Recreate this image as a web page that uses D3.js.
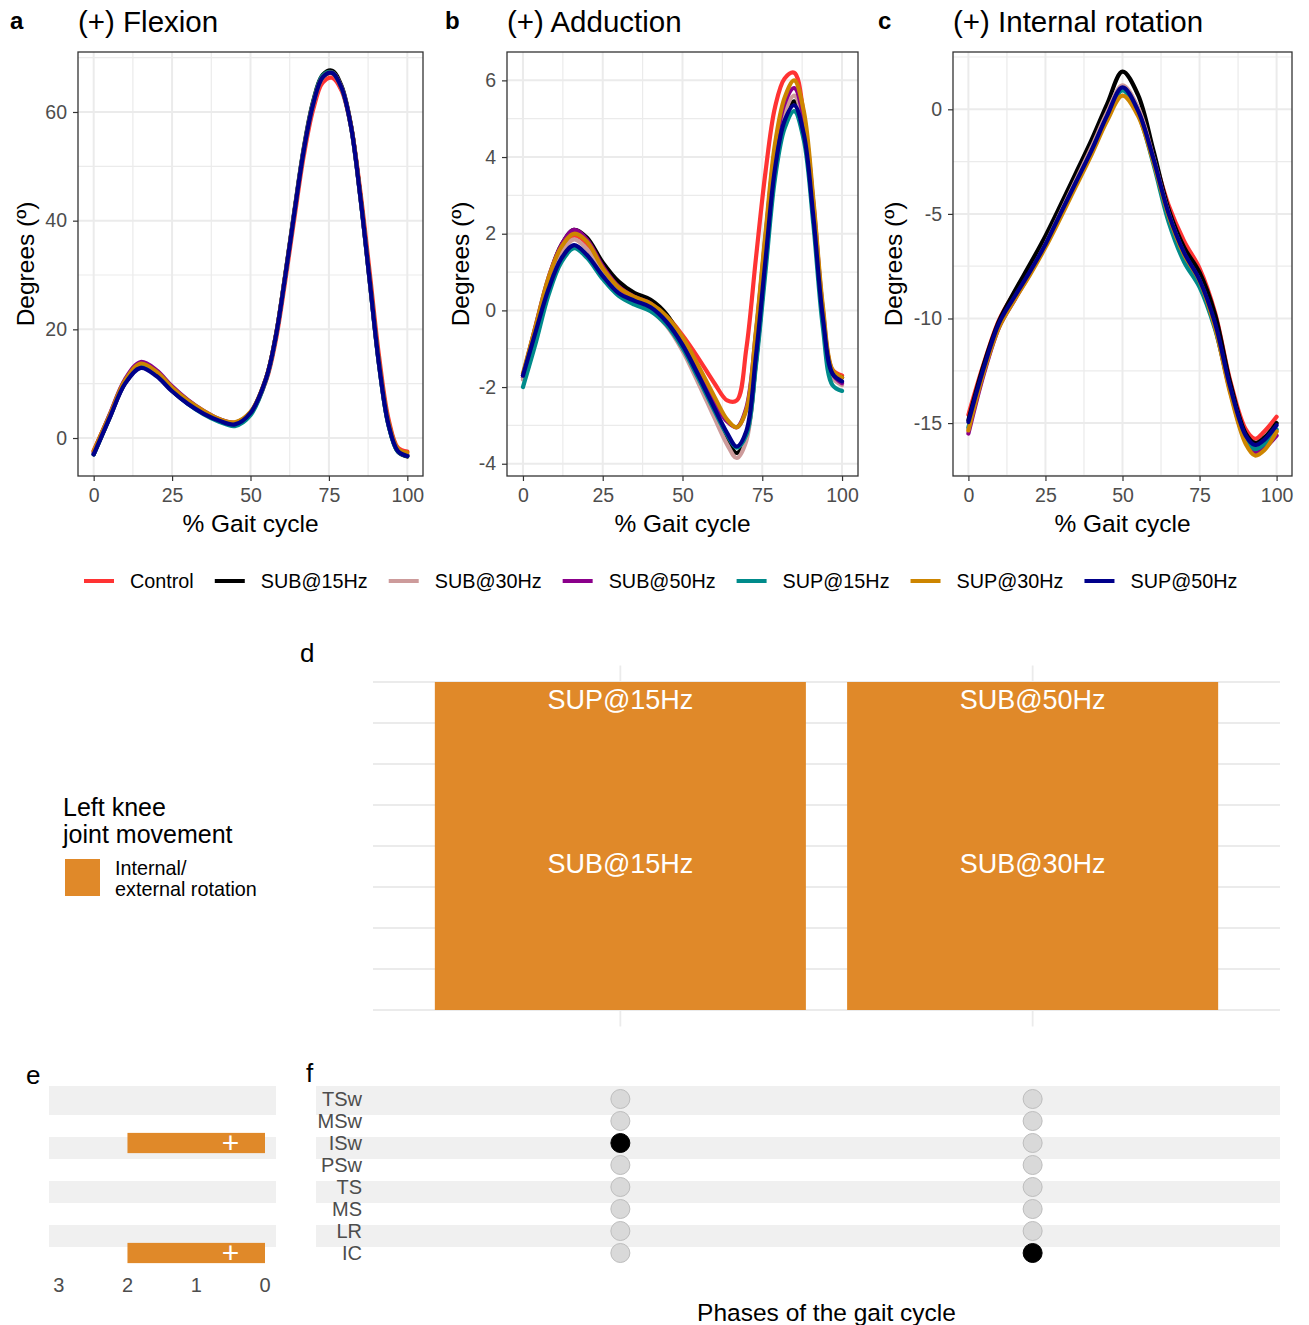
<!DOCTYPE html>
<html>
<head>
<meta charset="utf-8">
<script src="https://cdn.jsdelivr.net/npm/d3@7"></script>
<style>
  body { margin: 0; background: #fff; }
  text { font-family: "Liberation Sans", Arial, Helvetica, sans-serif; }
</style>
</head>
<body>
<svg id="fig" width="1309" height="1325"></svg>
<script>
// ---- data ----
const conditions = ["Control", "SUB@15Hz", "SUB@30Hz", "SUB@50Hz", "SUP@15Hz", "SUP@30Hz", "SUP@50Hz"];
const condColors = ["#ff3333", "#000000", "#cd9b9b", "#8b008b", "#008b8b", "#cd8500", "#00008b"];

// (a) flexion
const pctFlex = [0, 5, 10, 15, 20, 25, 30, 35, 40, 45, 50, 55, 58, 61, 64, 67, 70, 73, 76, 79, 82, 85, 88, 91, 94, 97, 100];
const flexControl = [-2.3, 4.0, 10.3, 13.3, 11.8, 8.9, 6.6, 4.8, 3.4, 2.8, 4.6, 10.6, 17.8, 28.6, 40.5, 52.0, 60.5, 65.4, 66.3, 64.0, 57.5, 45.5, 30.5, 15.0, 3.5, -1.8, -2.5];
const flexSub15 = [-3.0, 3.6, 10.1, 13.1, 11.6, 8.7, 6.4, 4.6, 3.2, 2.6, 4.6, 11.0, 18.6, 29.7, 41.8, 53.4, 62.0, 66.8, 67.6, 64.8, 57.7, 44.6, 29.0, 13.5, 2.4, -2.5, -3.4];
const flexSub30 = [-2.8, 3.8, 10.2, 13.3, 11.8, 8.9, 6.6, 4.7, 3.3, 2.6, 4.5, 10.9, 18.4, 29.4, 41.4, 52.9, 61.4, 66.3, 67.1, 64.4, 57.4, 44.5, 29.0, 13.6, 2.6, -2.3, -3.2];
const flexSub50 = [-2.6, 4.2, 10.8, 14.0, 12.5, 9.5, 7.0, 5.0, 3.5, 2.8, 4.7, 11.0, 18.5, 29.5, 41.5, 53.0, 61.5, 66.4, 67.2, 64.5, 57.5, 44.6, 29.2, 13.8, 2.8, -2.2, -3.1];
const flexSup15 = [-3.0, 3.7, 10.2, 13.2, 11.6, 8.7, 6.3, 4.4, 3.0, 2.2, 4.2, 10.8, 18.4, 29.5, 41.6, 53.2, 61.8, 66.7, 67.3, 64.5, 57.4, 44.4, 28.9, 13.4, 2.4, -2.5, -3.3];
const flexSup30 = [-2.4, 4.1, 10.6, 13.7, 12.2, 9.3, 6.9, 5.0, 3.5, 2.9, 4.8, 11.1, 18.6, 29.6, 41.5, 53.0, 61.5, 66.4, 67.2, 64.5, 57.6, 44.8, 29.4, 14.0, 3.0, -2.0, -2.7];
const flexSup50 = [-3.0, 3.6, 10.0, 12.9, 11.4, 8.6, 6.3, 4.5, 3.2, 2.5, 4.6, 11.0, 18.5, 29.5, 41.5, 53.0, 61.5, 66.4, 67.2, 64.5, 57.5, 44.5, 29.0, 13.5, 2.5, -2.4, -3.3];

// (b) adduction
const pctAdd = [0, 4, 8, 12, 16, 20, 25, 30, 35, 40, 45, 50, 55, 60, 64, 67, 70, 73, 76, 79, 82, 85, 88, 91, 94, 97, 100];
const addControl = [-1.70, -0.45, 0.75, 1.55, 1.95, 1.75, 1.05, 0.55, 0.30, 0.15, -0.15, -0.65, -1.25, -1.90, -2.35, -2.35, -1.00, 1.35, 3.60, 5.30, 6.05, 6.20, 5.10, 2.70, -0.15, -1.55, -1.70];
const addSub15 = [-1.75, -0.45, 0.80, 1.70, 2.10, 1.90, 1.25, 0.75, 0.45, 0.28, -0.10, -0.80, -1.70, -2.65, -3.35, -3.72, -3.30, -1.35, 1.20, 3.65, 5.00, 5.45, 4.70, 2.50, -0.15, -1.60, -1.75];
const addSub30 = [-1.80, -0.55, 0.65, 1.50, 1.85, 1.60, 0.95, 0.45, 0.18, 0.00, -0.40, -1.05, -1.90, -2.80, -3.50, -3.85, -3.40, -1.30, 1.35, 3.85, 5.15, 5.60, 4.85, 2.60, -0.20, -1.75, -1.95];
const addSub50 = [-1.70, -0.40, 0.85, 1.70, 2.10, 1.85, 1.15, 0.62, 0.35, 0.18, -0.20, -0.80, -1.60, -2.40, -2.90, -3.05, -2.55, -0.60, 1.90, 4.20, 5.40, 5.80, 5.00, 2.80, 0.00, -1.65, -1.90];
const addSup15 = [-2.00, -0.85, 0.40, 1.25, 1.62, 1.38, 0.82, 0.38, 0.15, -0.02, -0.38, -0.98, -1.78, -2.62, -3.25, -3.58, -3.25, -1.45, 1.00, 3.45, 4.75, 5.20, 4.45, 2.25, -0.45, -1.95, -2.10];
const addSup30 = [-1.65, -0.40, 0.85, 1.65, 2.00, 1.80, 1.10, 0.60, 0.35, 0.18, -0.15, -0.70, -1.45, -2.25, -2.85, -3.05, -2.60, -0.55, 2.00, 4.35, 5.55, 6.00, 5.20, 2.90, 0.10, -1.55, -1.75];
const addSup50 = [-1.70, -0.55, 0.55, 1.35, 1.70, 1.45, 0.90, 0.45, 0.25, 0.08, -0.30, -0.90, -1.70, -2.55, -3.20, -3.55, -3.15, -1.20, 1.30, 3.70, 4.95, 5.35, 4.60, 2.45, -0.20, -1.65, -1.85];

// (c) internal rotation
const pctRot = [0, 5, 10, 15, 20, 25, 30, 35, 40, 45, 50, 55, 60, 65, 70, 75, 80, 85, 90, 93, 96, 100];
const rotControl = [-14.6, -12.15, -10.05, -8.75, -7.6, -6.3, -4.9, -3.4, -1.9, -0.25, 1.0, 0.0, -2.2, -4.6, -6.3, -7.6, -9.7, -13.0, -15.3, -15.75, -15.4, -14.7];
const rotSub15 = [-14.85, -12.2, -10.1, -8.7, -7.4, -6.05, -4.55, -3.0, -1.45, 0.25, 1.8, 0.7, -1.95, -4.8, -6.6, -7.8, -9.8, -13.1, -15.5, -15.95, -15.7, -15.0];
const rotSub30 = [-15.3, -12.55, -10.35, -9.05, -7.8, -6.45, -4.9, -3.35, -1.8, -0.15, 1.15, 0.1, -2.3, -5.0, -6.9, -8.2, -10.3, -13.4, -15.7, -16.2, -16.0, -15.4];
const rotSub50 = [-15.5, -12.65, -10.4, -9.1, -7.85, -6.5, -5.0, -3.5, -2.0, -0.35, 0.95, -0.1, -2.4, -5.1, -7.0, -8.3, -10.4, -13.5, -15.9, -16.4, -16.2, -15.6];
const rotSup15 = [-15.2, -12.45, -10.3, -9.0, -7.8, -6.5, -5.0, -3.5, -2.0, -0.35, 0.9, -0.2, -2.6, -5.4, -7.3, -8.5, -10.5, -13.4, -15.7, -16.25, -16.0, -15.3];
const rotSup30 = [-15.35, -12.55, -10.4, -9.1, -7.9, -6.6, -5.15, -3.65, -2.15, -0.55, 0.65, -0.3, -2.5, -5.1, -6.95, -8.2, -10.4, -13.6, -16.0, -16.55, -16.3, -15.4];
const rotSup50 = [-14.95, -12.35, -10.2, -8.95, -7.75, -6.45, -4.95, -3.45, -1.95, -0.3, 1.05, -0.05, -2.35, -5.0, -6.85, -8.15, -10.2, -13.3, -15.6, -16.05, -15.8, -15.1];

// (d-f) phases with a significant effect
const phases = ["IC", "LR", "MS", "TS", "PSw", "ISw", "MSw", "TSw"];
const stripePhases = ["LR", "TS", "ISw", "TSw"];
const combos = [1, 2];
const comboPhase = ["ISw", "IC"];
const comboConds = [["SUB@15Hz", "SUP@15Hz"], ["SUB@30Hz", "SUB@50Hz"]];  // bottom to top
const phaseCount = [2, 0, 0, 0, 0, 2, 0, 0];
const movementLabel = "Internal/\nexternal rotation";
const movementColor = "#e08929";

// ---- drawing ----
const svg = d3.select("#fig");
const gridCol = "#ebebeb";
const tickCol = "#4d4d4d";

function minorOf(major, lo, hi) {
  const step = major[1] - major[0];
  const out = [];
  for (let i = -1; i < major.length; i++) {
    const m = major[0] + step * i + step / 2;
    if (m > lo && m < hi) out.push(m);
  }
  return out;
}

function curvePanel(opt) {
  const { left, right, top, bottom } = opt;
  const x = d3.scaleLinear().domain([-5, 105]).range([left, right]);
  const y = d3.scaleLinear().domain(opt.yDomain).range([bottom, top]);
  const g = svg.append("g");

  const xMajor = [0, 25, 50, 75, 100];
  const xMinor = minorOf(xMajor, -5, 105);
  const yMinor = minorOf(opt.yTicks, opt.yDomain[0], opt.yDomain[1]);

  g.selectAll(".vmin").data(xMinor).enter().append("line")
    .attr("x1", d => x(d)).attr("x2", d => x(d)).attr("y1", top).attr("y2", bottom)
    .attr("stroke", gridCol).attr("stroke-width", 1.2);
  g.selectAll(".hmin").data(yMinor).enter().append("line")
    .attr("x1", left).attr("x2", right).attr("y1", d => y(d)).attr("y2", d => y(d))
    .attr("stroke", gridCol).attr("stroke-width", 1.2);
  g.selectAll(".vmaj").data(xMajor).enter().append("line")
    .attr("x1", d => x(d)).attr("x2", d => x(d)).attr("y1", top).attr("y2", bottom)
    .attr("stroke", gridCol).attr("stroke-width", 2);
  g.selectAll(".hmaj").data(opt.yTicks).enter().append("line")
    .attr("x1", left).attr("x2", right).attr("y1", d => y(d)).attr("y2", d => y(d))
    .attr("stroke", gridCol).attr("stroke-width", 2);

  // curves
  const clipId = "clip" + opt.letter;
  svg.append("clipPath").attr("id", clipId).append("rect")
    .attr("x", left).attr("y", top).attr("width", right - left).attr("height", bottom - top);
  const line = d3.line()
    .x((d, i) => x(opt.pct[i]))
    .y(d => y(d))
    .curve(d3.curveCatmullRom.alpha(0.5));
  g.append("g").attr("clip-path", `url(#${clipId})`)
    .selectAll("path").data(opt.series).enter().append("path")
    .attr("d", d => line(d))
    .attr("fill", "none")
    .attr("stroke", (d, i) => condColors[i])
    .attr("stroke-width", 4.2)
    .attr("stroke-linejoin", "round")
    .attr("stroke-linecap", "round");

  // border
  g.append("rect").attr("x", left).attr("y", top).attr("width", right - left).attr("height", bottom - top)
    .attr("fill", "none").attr("stroke", "#333").attr("stroke-width", 1.3);

  // axes
  const xAxis = d3.axisBottom(x).tickValues(xMajor).tickSize(5).tickPadding(7);
  const yAxis = d3.axisLeft(y).tickValues(opt.yTicks).tickSize(5).tickPadding(6)
    .tickFormat(d => d3.format("d")(d).replace("−", "-"));
  const gx = g.append("g").attr("transform", `translate(0,${bottom})`).call(xAxis);
  const gy = g.append("g").attr("transform", `translate(${left},0)`).call(yAxis);
  [gx, gy].forEach(a => {
    a.select(".domain").remove();
    a.selectAll(".tick line").attr("stroke", "#333").attr("stroke-width", 1.2);
    a.selectAll(".tick text").attr("fill", tickCol).style("font-size", "19.5px")
      .style("font-family", '"Liberation Sans", Arial, sans-serif');
  });

  // titles
  g.append("text").attr("x", (x(0) + x(100)) / 2).attr("y", 532)
    .attr("text-anchor", "middle").style("font-size", "24.5px").text("% Gait cycle");
  g.append("text").attr("transform", `translate(${opt.yTitleX},${(top + bottom) / 2}) rotate(-90)`)
    .attr("text-anchor", "middle").attr("dy", "0.35em").style("font-size", "24.5px").text("Degrees (º)");
  g.append("text").attr("x", left).attr("y", 32).style("font-size", "29.5px").text(opt.title);
  g.append("text").attr("x", opt.letterX).attr("y", 29).style("font-size", "24px")
    .style("font-weight", "bold").text(opt.letter);
}

curvePanel({
  letter: "a", letterX: 10, title: "(+) Flexion",
  left: 78, right: 423, top: 52, bottom: 476, yTitleX: 25,
  yDomain: [-6.99, 71.04], yTicks: [0, 20, 40, 60],
  pct: pctFlex,
  series: [flexControl, flexSub15, flexSub30, flexSub50, flexSup15, flexSup30, flexSup50]
});
curvePanel({
  letter: "b", letterX: 445, title: "(+) Adduction",
  left: 507, right: 858, top: 52, bottom: 476, yTitleX: 460,
  yDomain: [-4.32, 6.74], yTicks: [-4, -2, 0, 2, 4, 6],
  pct: pctAdd,
  series: [addControl, addSub15, addSub30, addSub50, addSup15, addSup30, addSup50]
});
curvePanel({
  letter: "c", letterX: 878, title: "(+) Internal rotation",
  left: 953, right: 1292, top: 52, bottom: 476, yTitleX: 893,
  yDomain: [-17.53, 2.74], yTicks: [-15, -10, -5, 0],
  pct: pctRot,
  series: [rotControl, rotSub15, rotSub30, rotSub50, rotSup15, rotSup30, rotSup50]
});

// legend for the curves
(function () {
  const lg = svg.append("g");
  let cx = 84;
  conditions.forEach((c, i) => {
    lg.append("line").attr("x1", cx).attr("x2", cx + 30).attr("y1", 581).attr("y2", 581)
      .attr("stroke", condColors[i]).attr("stroke-width", 4);
    const t = lg.append("text").attr("x", cx + 46).attr("y", 588)
      .style("font-size", "19.8px").text(c);
    cx += 46 + t.node().getComputedTextLength() + 21;
  });
})();

// (d) bars of the phase combinations
const dx = d3.scaleLinear().domain([0.4, 2.6]).range([373, 1280]);
const dy = d3.scaleLinear().domain([-0.1, 2.1]).range([1026.4, 665.6]);
(function () {
  const g = svg.append("g");
  g.selectAll(".dh").data(d3.range(0, 2.01, 0.25)).enter().append("line")
    .attr("x1", 373).attr("x2", 1280).attr("y1", d => dy(d)).attr("y2", d => dy(d))
    .attr("stroke", gridCol).attr("stroke-width", 1.8);
  g.selectAll(".dv").data(combos).enter().append("line")
    .attr("x1", d => dx(d)).attr("x2", d => dx(d)).attr("y1", 665.6).attr("y2", 1026.4)
    .attr("stroke", gridCol).attr("stroke-width", 1.8);

  const segs = [];
  combos.forEach((c, ci) => comboConds[ci].forEach((label, k) => segs.push({ c, k, label })));
  const bw = dx(1.45) - dx(1);
  g.selectAll(".seg").data(segs).enter().append("rect")
    .attr("x", d => dx(d.c) - bw).attr("width", 2 * bw)
    .attr("y", d => dy(d.k + 1)).attr("height", d => dy(d.k) - dy(d.k + 1))
    .attr("fill", movementColor);
  g.selectAll(".segl").data(segs).enter().append("text")
    .attr("x", d => dx(d.c)).attr("y", d => dy(d.k + 1) + 27)
    .attr("text-anchor", "middle").attr("fill", "#fff").style("font-size", "27px")
    .text(d => d.label);
  g.append("text").attr("x", 300).attr("y", 662).style("font-size", "26px").text("d");

  // legend
  g.append("text").attr("x", 63).attr("y", 816).style("font-size", "25px").text("Left knee");
  g.append("text").attr("x", 63).attr("y", 843).style("font-size", "25px").text("joint movement");
  g.append("rect").attr("x", 65).attr("y", 859).attr("width", 35).attr("height", 37).attr("fill", movementColor);
  movementLabel.split("\n").forEach((s, i) => {
    g.append("text").attr("x", 115).attr("y", 875 + i * 21).style("font-size", "19.8px").text(s);
  });
})();

// rows shared by (e) and (f)
const ry = d3.scaleLinear().domain([0, 7]).range([1253, 1099]);
function stripeTop(p) { return p === "TSw" ? 1086 : ry(phases.indexOf(p) + 0.27); }
function stripeBot(p) { return ry(phases.indexOf(p) - 0.73); }

// (e) number of conditions per phase
(function () {
  const ex = d3.scaleLinear().domain([3.141, -0.16]).range([49, 276]);
  const g = svg.append("g");
  g.selectAll(".st").data(stripePhases).enter().append("rect")
    .attr("x", 49).attr("width", 227)
    .attr("y", d => stripeTop(d)).attr("height", d => stripeBot(d) - stripeTop(d))
    .attr("fill", "#f0f0f0");
  const bars = phases.map((p, i) => ({ p, i, n: phaseCount[i] })).filter(d => d.n > 0);
  g.selectAll(".eb").data(bars).enter().append("rect")
    .attr("x", d => ex(d.n)).attr("width", d => ex(0) - ex(d.n))
    .attr("y", d => ry(d.i + 0.46)).attr("height", d => ry(d.i - 0.46) - ry(d.i + 0.46))
    .attr("fill", movementColor);
  g.selectAll(".ep").data(bars).enter().append("text")
    .attr("x", ex(0.5)).attr("y", d => ry(d.i) + 10)
    .attr("text-anchor", "middle").attr("fill", "#fff").style("font-size", "30px").text("+");
  g.selectAll(".et").data([3, 2, 1, 0]).enter().append("text")
    .attr("x", d => ex(d)).attr("y", 1292).attr("text-anchor", "middle")
    .attr("fill", tickCol).style("font-size", "20px").text(d => d);
  g.append("text").attr("x", 26).attr("y", 1084).style("font-size", "26px").text("e");
})();

// (f) phase matrix
(function () {
  const g = svg.append("g");
  g.selectAll(".st").data(stripePhases).enter().append("rect")
    .attr("x", 316).attr("width", 964)
    .attr("y", d => stripeTop(d)).attr("height", d => stripeBot(d) - stripeTop(d))
    .attr("fill", "#f0f0f0");
  g.selectAll(".rl").data(phases).enter().append("text")
    .attr("x", 362).attr("y", (d, i) => ry(i) + 7).attr("text-anchor", "end")
    .attr("fill", tickCol).style("font-size", "20px").text(d => d);
  const dots = [];
  combos.forEach((c, ci) => phases.forEach((p, i) => dots.push({ c, i, on: comboPhase[ci] === p })));
  g.selectAll(".dot").data(dots).enter().append("circle")
    .attr("cx", d => dx(d.c)).attr("cy", d => ry(d.i)).attr("r", 9.5)
    .attr("fill", d => d.on ? "#000" : "#d9d9d9")
    .attr("stroke", d => d.on ? "#000" : "#bdbdbd").attr("stroke-width", 1);
  g.append("text").attr("x", (373 + 1280) / 2).attr("y", 1321).attr("text-anchor", "middle")
    .style("font-size", "24.5px").text("Phases of the gait cycle");
  g.append("text").attr("x", 306).attr("y", 1082).style("font-size", "26px").text("f");
})();
</script>
</body>
</html>
